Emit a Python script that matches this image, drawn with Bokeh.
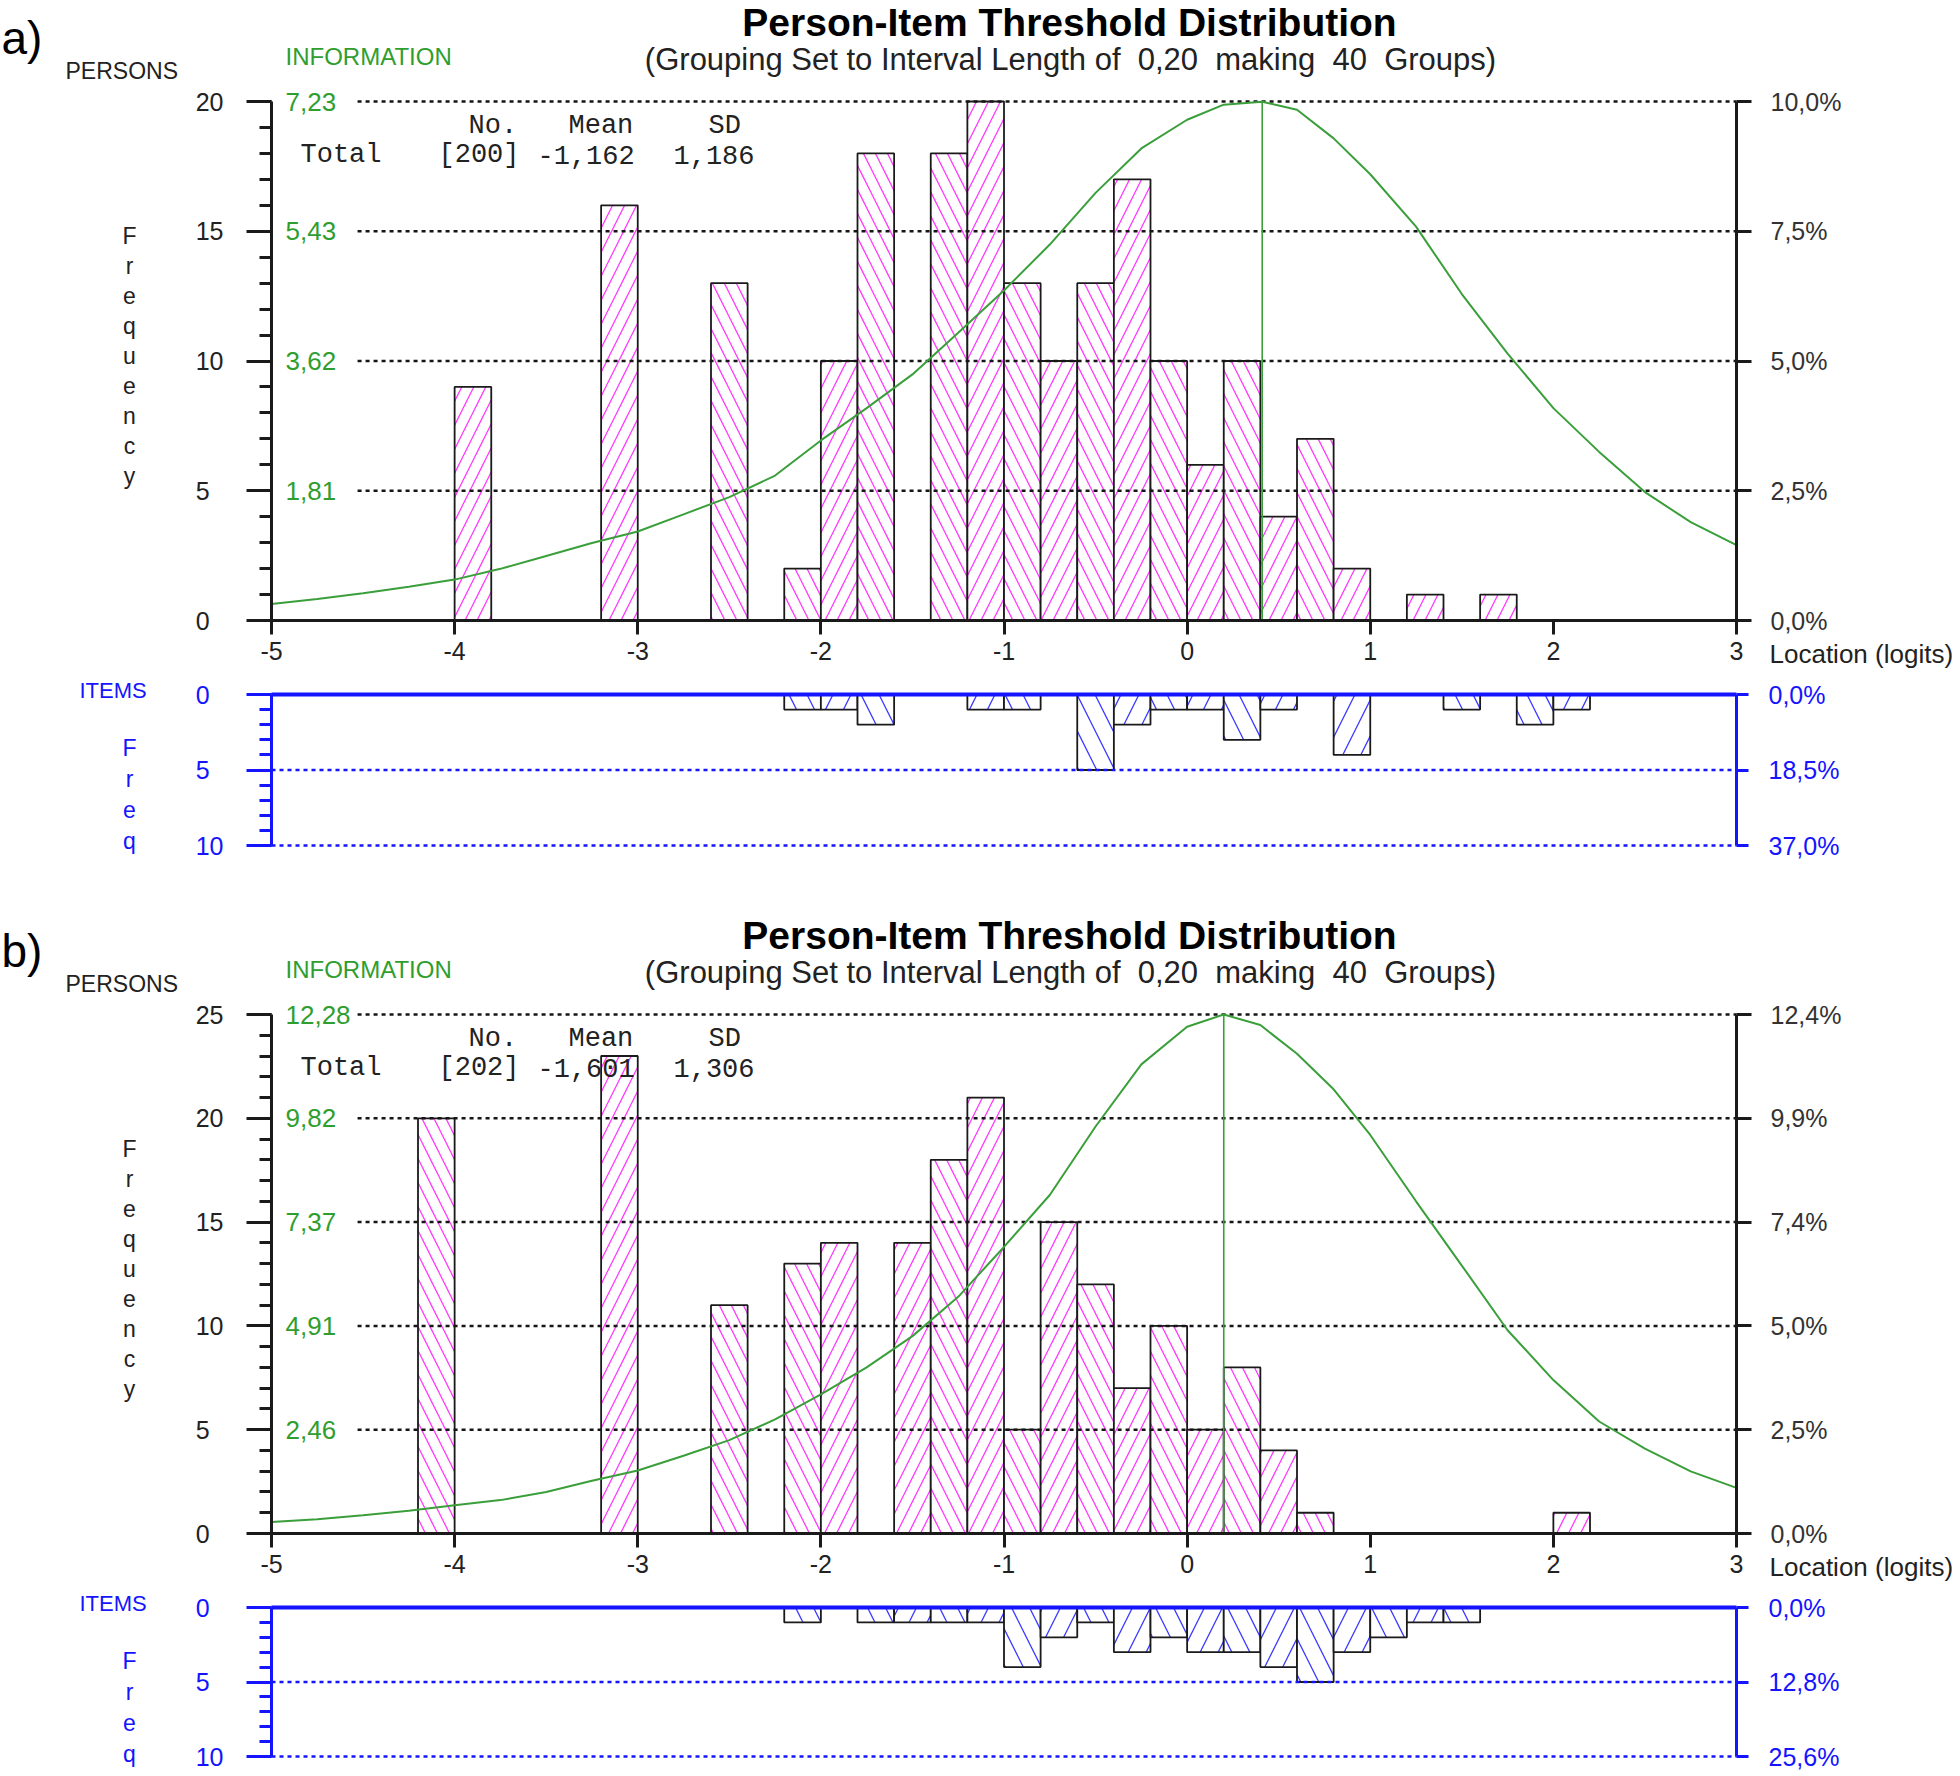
from bokeh.plotting import figure
from bokeh.models import Range1d, LinearAxis, FixedTicker, SingleIntervalTicker, Label, ColumnDataSource
from bokeh.embed import file_html
from bokeh.resources import INLINE
from bokeh.core.properties import field

# ------------------------------------------------------------------ data
X_MIN, X_MAX, BIN = -5.0, 3.0, 0.2
x_ticks = [-5, -4, -3, -2, -1, 0, 1, 2, 3]
x_tick_labels = ["-5", "-4", "-3", "-2", "-1", "0", "1", "2", "3"]

# panel a) persons
a_person_left = [-4.0, -3.2, -2.6, -2.2, -2.0, -1.8, -1.4, -1.2, -1.0, -0.8,
                 -0.6, -0.4, -0.2, 0.0, 0.2, 0.4, 0.6, 0.8, 1.2, 1.6]
a_person_count = [9, 16, 13, 2, 10, 18, 18, 20, 13, 10,
                  13, 17, 10, 6, 10, 4, 7, 2, 1, 1]
# panel a) items
a_item_left = [-2.2, -2.0, -1.8, -1.2, -1.0, -0.6, -0.4, -0.2, 0.0, 0.2, 0.4, 0.8, 1.4, 1.8, 2.0]
a_item_count = [1, 1, 2, 1, 1, 5, 2, 1, 1, 3, 1, 4, 1, 2, 1]
# panel a) test information curve
a_info_x = [-5.0, -4.75, -4.5, -4.25, -4.0, -3.75, -3.5, -3.25, -3.0, -2.75, -2.5, -2.25,
            -2.0, -1.75, -1.5, -1.25, -1.0, -0.75, -0.5, -0.25, 0.0, 0.2, 0.41, 0.6,
            0.8, 1.0, 1.25, 1.5, 1.75, 2.0, 2.25, 2.5, 2.75, 3.0]
a_info = [0.23, 0.30, 0.38, 0.47, 0.57, 0.72, 0.90, 1.08, 1.24, 1.48, 1.72, 2.02,
          2.51, 2.96, 3.43, 4.01, 4.60, 5.24, 5.96, 6.58, 6.98, 7.19, 7.23, 7.12,
          6.72, 6.22, 5.49, 4.55, 3.72, 2.96, 2.35, 1.79, 1.37, 1.05]
a_info_max = 7.234
a_info_peak = 0.41
a_freq_max = 20
a_info_labels = ["1,81", "3,62", "5,43", "7,23"]
a_pct_labels = ["0,0%", "2,5%", "5,0%", "7,5%", "10,0%"]
a_item_pct_labels = ["0,0%", "18,5%", "37,0%"]
a_stats = ["[200]", "-1,162", "1,186"]

# panel b) persons
b_person_left = [-4.2, -3.2, -2.6, -2.2, -2.0, -1.6, -1.4, -1.2, -1.0, -0.8,
                 -0.6, -0.4, -0.2, 0.0, 0.2, 0.4, 0.6, 2.0]
b_person_count = [20, 23, 11, 13, 14, 14, 18, 21, 5, 15,
                  12, 7, 10, 5, 8, 4, 1, 1]
# panel b) items
b_item_left = [-2.2, -1.8, -1.6, -1.4, -1.2, -1.0, -0.8, -0.6, -0.4, -0.2,
               0.0, 0.2, 0.4, 0.6, 0.8, 1.0, 1.2, 1.4]
b_item_count = [1, 1, 1, 1, 1, 4, 2, 1, 3, 2, 3, 3, 4, 5, 3, 2, 1, 1]
# panel b) test information curve
b_info_x = [-5.0, -4.75, -4.5, -4.25, -4.0, -3.75, -3.5, -3.25, -3.0, -2.75, -2.5, -2.25,
            -2.0, -1.75, -1.5, -1.25, -1.0, -0.75, -0.5, -0.25, 0.0, 0.2, 0.4, 0.6,
            0.8, 1.0, 1.25, 1.5, 1.75, 2.0, 2.25, 2.5, 2.75, 3.0]
b_info = [0.27, 0.34, 0.43, 0.54, 0.67, 0.79, 0.98, 1.25, 1.49, 1.84, 2.21, 2.70,
          3.29, 3.93, 4.67, 5.60, 6.78, 8.01, 9.63, 11.10, 11.99, 12.28, 12.03, 11.35,
          10.51, 9.43, 7.86, 6.34, 4.81, 3.63, 2.65, 2.01, 1.47, 1.08]
b_info_max = 12.28
b_info_peak = 0.2
b_freq_max = 25
b_info_labels = ["2,46", "4,91", "7,37", "9,82", "12,28"]
b_pct_labels = ["0,0%", "2,5%", "5,0%", "7,4%", "9,9%", "12,4%"]
b_item_pct_labels = ["0,0%", "12,8%", "25,6%"]
b_stats = ["[202]", "-1,601", "1,306"]

TITLE = "Person-Item Threshold Distribution"
NB = "\u00a0"
SUBTITLE = ("(Grouping Set to Interval Length of" + NB * 2 + "0,20" + NB * 2 + "making"
            + NB * 2 + "40" + NB * 2 + "Groups)")

# ------------------------------------------------------------------ style / layout
FONT = "Liberation Sans"
MONO = "Liberation Mono"
MAGENTA = "#ff38ff"
GREEN = "#3a9f3a"
GREEN_TXT = "#2f9e2f"
BLUE = "#1414ff"
BLUE_HATCH = "#3838ff"
INK = "#1a1a1a"
CW_, CH_ = 1952, 1770          # canvas size
PX_L, PX_R = 271, 1736         # canvas x of logit -5 and +3
GRID_X0 = -4.53


def lin_range(v0, py0, v1, py1):
    k = (v1 - v0) / (py1 - py0)
    return Range1d(v0 + (CH_ - py0) * k, v0 - py0 * k)


ppu = (PX_R - PX_L) / (X_MAX - X_MIN)
p = figure(width=CW_, height=CH_, output_backend="svg", toolbar_location=None,
           x_range=Range1d(X_MIN - PX_L / ppu, X_MAX + (CW_ - PX_R) / ppu),
           y_range=Range1d(0, 1), x_axis_location=None, y_axis_location=None,
           min_border=0, min_border_left=0, min_border_right=0, min_border_top=0,
           min_border_bottom=0, outline_line_color=None, title=None)
p.grid.visible = False


def hatch_for(lefts):
    out = []
    for l in lefts:
        i = int(round((l - X_MIN) / BIN))
        out.append("right_diagonal_line" if i % 2 else "left_diagonal_line")
    return out


def lab(text, x, y, rn, dx=0, dy=0, size="24px", color=INK, align="left",
        baseline="middle", font=FONT, style="normal"):
    p.add_layout(Label(x=x, y=y, y_range_name=rn, x_offset=dx, y_offset=dy, text=text,
                       text_font=font, text_font_size=size, text_color=color,
                       text_align=align, text_baseline=baseline, text_font_style=style))


def style_axis(ax, color, tick_out, minor_out, standoff, size="25px", lw=3):
    ax.axis_line_color = color
    ax.axis_line_width = lw
    ax.major_tick_line_color = color
    ax.major_tick_line_width = lw
    ax.minor_tick_line_color = color
    ax.minor_tick_line_width = lw
    ax.major_tick_out = tick_out
    ax.major_tick_in = 0
    ax.minor_tick_out = minor_out
    ax.minor_tick_in = 0
    ax.major_label_standoff = standoff
    ax.major_label_text_font = FONT
    ax.major_label_text_font_size = size


def top_panel(key, letter, py_top, py_zero, lefts, counts, ymax, ix, iy, imax, ipeak,
              info_labels, pct_labels, stats):
    rn, rinfo = key + "_p", key + "_info"
    p.extra_y_ranges[rn] = lin_range(0, py_zero, ymax, py_top)
    p.extra_y_ranges[rinfo] = lin_range(0, py_zero, imax, py_top)

    src = ColumnDataSource(dict(left=lefts, right=[l + BIN for l in lefts], top=counts,
                                hatch=hatch_for(lefts)))
    p.quad(left="left", right="right", bottom=0, top="top", source=src, y_range_name=rn,
           fill_color="white", line_color=INK, line_width=1.8, hatch_pattern=field("hatch"),
           hatch_color=MAGENTA, hatch_scale=24, hatch_weight=1.3)

    levels = list(range(5, ymax + 1, 5))
    p.segment(x0=GRID_X0, x1=X_MAX, y0=levels, y1=levels, y_range_name=rn,
              line_color="#151515", line_width=2.5, line_dash="4 4")

    p.line(ix, iy, y_range_name=rinfo, line_color=GREEN, line_width=2)
    p.segment(x0=[ipeak], y0=[0], x1=[ipeak], y1=[imax], y_range_name=rinfo,
              line_color=GREEN, line_width=1.6)

    yl = LinearAxis(y_range_name=rn, fixed_location=X_MIN, bounds=(0, ymax),
                    ticker=SingleIntervalTicker(interval=5, num_minor_ticks=5),
                    major_label_overrides={0: "0\u2007", 5: "5\u2007"})
    style_axis(yl, INK, 25, 12, 23)
    yl.major_label_text_color = "#222"
    p.add_layout(yl, "left")

    xa = LinearAxis(y_range_name=rn, fixed_location=0, bounds=(X_MIN, X_MAX),
                    ticker=FixedTicker(ticks=x_ticks),
                    major_label_overrides={t: s for t, s in zip(x_ticks, x_tick_labels)})
    style_axis(xa, INK, 14, 0, 7)
    xa.major_label_text_color = "#222"
    p.add_layout(xa, "below")

    ticks = [0] + levels
    ra = LinearAxis(y_range_name=rn, fixed_location=X_MAX, bounds=(0, ymax),
                    ticker=FixedTicker(ticks=ticks),
                    major_label_overrides={t: s for t, s in zip(ticks, pct_labels)})
    style_axis(ra, INK, 15, 0, 19)
    ra.major_label_text_color = "#333"
    p.add_layout(ra, "right")

    for lv, s in zip(levels, info_labels):
        lab(s, X_MIN, lv, rn, dx=14, color=GREEN_TXT, size="26px")

    lab(TITLE, X_MIN, ymax, rn, dx=798, dy=79, size="39px", align="center",
        style="bold", color="#000")
    lab(SUBTITLE, X_MIN, ymax, rn, dx=799, dy=42, size="31px", align="center",
        color="#222")
    lab("INFORMATION", X_MIN, ymax, rn, dx=14, dy=45, size="24px", color=GREEN_TXT)
    lab("PERSONS", X_MIN, ymax, rn, dx=-206, dy=31, size="23px", color="#222")
    lab(letter, X_MIN, ymax, rn, dx=-270, dy=64, size="46px", color="#000")
    for k, ch in enumerate("Frequency"):
        lab(ch, X_MIN, ymax, rn, dx=-142, dy=-(134 + 30 * k), size="23px", align="center",
            color="#222")
    lab("Location (logits)", X_MAX, 0, rn, dx=33, dy=-33, size="26px", color="#222")

    for s, dx in [("No.", 197), ("Mean", 297), ("SD", 437)]:
        lab(s, X_MIN, ymax, rn, dx=dx, dy=-24, size="27px", font=MONO, color="#222")
    for s, dx in [("Total", 29), (stats[0], 167), (stats[1], 266), (stats[2], 402)]:
        lab(s, X_MIN, ymax, rn, dx=dx, dy=-53, size="27px", font=MONO, color="#222")


def item_panel(key, py_zero, py_ten, lefts, counts, pct_labels):
    rn = key + "_i"
    p.extra_y_ranges[rn] = lin_range(0, py_zero, 10, py_ten)

    src = ColumnDataSource(dict(left=lefts, right=[l + BIN for l in lefts], bottom=counts,
                                hatch=hatch_for(lefts)))
    p.quad(left="left", right="right", top=0, bottom="bottom", source=src, y_range_name=rn,
           fill_color="white", line_color=INK, line_width=1.8, hatch_pattern=field("hatch"),
           hatch_color=BLUE_HATCH, hatch_scale=36, hatch_weight=1.3)

    p.segment(x0=X_MIN, x1=X_MAX, y0=[5, 10], y1=[5, 10], y_range_name=rn,
              line_color=BLUE, line_width=2.5, line_dash="4 4")

    top = LinearAxis(y_range_name=rn, fixed_location=0, bounds=(X_MIN, X_MAX),
                     ticker=FixedTicker(ticks=[]))
    top.axis_line_color = BLUE
    top.axis_line_width = 4
    top.major_tick_out = 0
    top.major_tick_in = 0
    top.minor_tick_out = 0
    top.minor_tick_in = 0
    p.add_layout(top, "above")

    yl = LinearAxis(y_range_name=rn, fixed_location=X_MIN, bounds=(0, 10),
                    ticker=SingleIntervalTicker(interval=5, num_minor_ticks=5),
                    major_label_overrides={0: "0\u2007", 5: "5\u2007"})
    style_axis(yl, BLUE, 25, 12, 23)
    yl.major_label_text_color = BLUE
    p.add_layout(yl, "left")

    ra = LinearAxis(y_range_name=rn, fixed_location=X_MAX, bounds=(0, 10),
                    ticker=FixedTicker(ticks=[0, 5, 10]),
                    major_label_overrides={t: s for t, s in zip([0, 5, 10], pct_labels)})
    style_axis(ra, BLUE, 12, 0, 20)
    ra.major_label_text_color = BLUE
    p.add_layout(ra, "right")

    lab("ITEMS", X_MIN, 0, rn, dx=-192, dy=4, size="22px", color=BLUE)
    for k, ch in enumerate("Freq"):
        lab(ch, X_MIN, 0, rn, dx=-142, dy=-(53 + 31 * k), size="23px", align="center",
            color=BLUE)


top_panel("a", "a)", 101, 620, a_person_left, a_person_count, a_freq_max, a_info_x, a_info,
          a_info_max, a_info_peak, a_info_labels, a_pct_labels, a_stats)
item_panel("a", 694, 845, a_item_left, a_item_count, a_item_pct_labels)
top_panel("b", "b)", 1014, 1533, b_person_left, b_person_count, b_freq_max, b_info_x, b_info,
          b_info_max, b_info_peak, b_info_labels, b_pct_labels, b_stats)
item_panel("b", 1607, 1756, b_item_left, b_item_count, b_item_pct_labels)

open("out.html", "w").write(file_html(p, INLINE))
